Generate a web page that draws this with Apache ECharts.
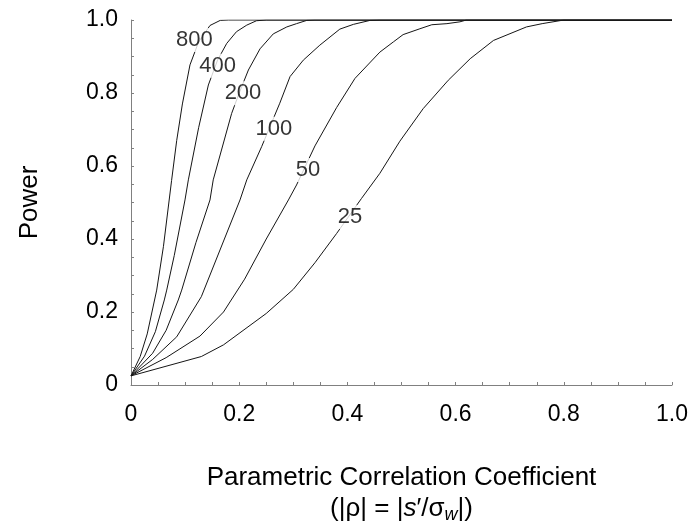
<!DOCTYPE html>
<html><head><meta charset="utf-8">
<script src="https://cdn.jsdelivr.net/npm/echarts@6/dist/echarts.min.js"></script>
<style>html,body{margin:0;padding:0;background:#fff}#c{width:689px;height:522px}</style>
</head><body><div id="c"></div>
<script>
// Sample sizes (curve labels)
const sampleSizes = ['25', '50', '100', '200', '400', '800'];

// Power curves: [rho, power]
const power25 = [[0,0.025],[0.13,0.078],[0.171,0.11],[0.25,0.196],[0.30,0.262],[0.34,0.335],[0.38,0.415],[0.426,0.511],[0.46,0.58],[0.497,0.668],[0.54,0.757],[0.5865,0.835],[0.627,0.894],[0.67,0.944],[0.731,0.981],[0.76,0.99],[0.80,1.0],[1.0,1.0]];
const power50 = [[0,0.025],[0.065,0.075],[0.1275,0.134],[0.171,0.2],[0.21,0.29],[0.25,0.4],[0.291,0.507],[0.306,0.548],[0.34,0.655],[0.38,0.76],[0.414,0.84],[0.46,0.912],[0.485,0.94],[0.503,0.96],[0.534,0.976],[0.556,0.987],[0.584,0.99],[0.608,0.995],[0.62,1.0],[1.0,1.0]];
const power100 = [[0,0.025],[0.04,0.07],[0.0845,0.132],[0.13,0.242],[0.2015,0.507],[0.214,0.562],[0.2415,0.653],[0.275,0.772],[0.294,0.845],[0.3185,0.89],[0.349,0.931],[0.386,0.975],[0.411,0.988],[0.442,0.999],[0.46,1.0],[1.0,1.0]];
const power200 = [[0,0.025],[0.04,0.087],[0.065,0.15],[0.0874,0.233],[0.0937,0.26],[0.12,0.39],[0.146,0.507],[0.152,0.562],[0.186,0.744],[0.2,0.8],[0.217,0.863],[0.2385,0.921],[0.263,0.962],[0.288,0.981],[0.306,0.99],[0.325,0.999],[0.34,1.0],[1.0,1.0]];
const power400 = [[0,0.025],[0.025,0.079],[0.045,0.146],[0.0616,0.233],[0.066,0.26],[0.08,0.355],[0.0998,0.507],[0.106,0.562],[0.125,0.705],[0.143,0.822],[0.16,0.89],[0.177,0.936],[0.195,0.968],[0.214,0.986],[0.232,0.998],[0.25,1.0],[1.0,1.0]];
const power800 = [[0,0.025],[0.017,0.078],[0.03,0.14],[0.0475,0.26],[0.06,0.38],[0.075,0.56],[0.0845,0.67],[0.095,0.77],[0.109,0.877],[0.125,0.94],[0.146,0.985],[0.165,0.999],[0.18,1.0],[1.0,1.0]];

// Tick labels
const xTickLabels = ['0', '0.2', '0.4', '0.6', '0.8', '1.0'];
const yTickLabels = ['0', '0.2', '0.4', '0.6', '0.8', '1.0'];

// Text
const yTitle = 'Power';
const xTitleLine1 = 'Parametric Correlation Coefficient';

const curves = [power25, power50, power100, power200, power400, power800];
// where each curve's label sits (data coordinates)
const labelAnchors = [[0.405,0.46],[0.327,0.589],[0.264,0.702],[0.207,0.799],[0.160,0.875],[0.117,0.945]];

const FONT = '"Liberation Sans", Arial, Helvetica, sans-serif';
function tickFmt(labels) {
  return function (v) {
    const k = v / 0.2, r = Math.round(k);
    return Math.abs(k - r) < 1e-6 ? labels[r] : '';
  };
}
const axisCol = '#808080';

const chart = echarts.init(document.getElementById('c'), null, {renderer: 'canvas'});
chart.setOption({
  animation: false,
  backgroundColor: '#fff',
  grid: {left: 131, right: 17, top: 20, bottom: 137, containLabel: false, outerBoundsMode: 'none'},
  xAxis: {
    type: 'value', min: 0, max: 1, interval: 0.05,
    axisLine: {show: true, lineStyle: {color: axisCol, width: 1}},
    axisTick: {show: true, inside: true, length: 3, lineStyle: {color: axisCol}},
    splitLine: {show: false},
    axisLabel: {formatter: tickFmt(xTickLabels), fontFamily: FONT, fontSize: 23, color: '#000', margin: 18, showMinLabel: true, showMaxLabel: true, hideOverlap: false},
    name: '{t|' + xTitleLine1 + '}\n{t|(|ρ| = |}{i|s}{t|′/σ}{s|w}{t||)}',
    nameLocation: 'middle', nameGap: 77,
    nameTextStyle: {
      fontFamily: FONT, color: '#000',
      rich: {
        t: {fontFamily: FONT, fontSize: 26, lineHeight: 31, color: '#000'},
        i: {fontFamily: FONT, fontSize: 26, lineHeight: 31, fontStyle: 'italic', color: '#000'},
        s: {fontFamily: FONT, fontSize: 18, lineHeight: 10, fontStyle: 'italic', verticalAlign: 'bottom', color: '#000'}
      }
    }
  },
  yAxis: {
    type: 'value', min: 0, max: 1, interval: 0.05,
    axisLine: {show: true, lineStyle: {color: axisCol, width: 1}},
    axisTick: {show: true, inside: true, length: 3, lineStyle: {color: axisCol}},
    splitLine: {show: false},
    axisLabel: {formatter: tickFmt(yTickLabels), fontFamily: FONT, fontSize: 23, color: '#000', margin: 13, showMinLabel: true, showMaxLabel: true, hideOverlap: false},
    name: yTitle, nameLocation: 'middle', nameGap: 88, nameRotate: 90,
    nameTextStyle: {fontFamily: FONT, fontSize: 26, color: '#000'}
  },
  series: curves.map(function (d, i) {
    return {
      type: 'line', name: sampleSizes[i], data: d, showSymbol: false, symbol: 'none',
      lineStyle: {color: '#151515', width: 1}, silent: true, z: 2
    };
  }).concat([{
    type: 'scatter', silent: true, z: 5,
    symbolSize: 1, itemStyle: {color: 'rgba(0,0,0,0)'},
    data: labelAnchors.map(function (p, i) { return [p[0], p[1], sampleSizes[i]]; }),
    label: {
      show: true, position: 'inside', formatter: function (p) { return p.value[2]; },
      fontFamily: FONT, fontSize: 22, color: '#000', backgroundColor: '#fff', padding: [1, 2]
    }
  }])
});
</script>
</body></html>
